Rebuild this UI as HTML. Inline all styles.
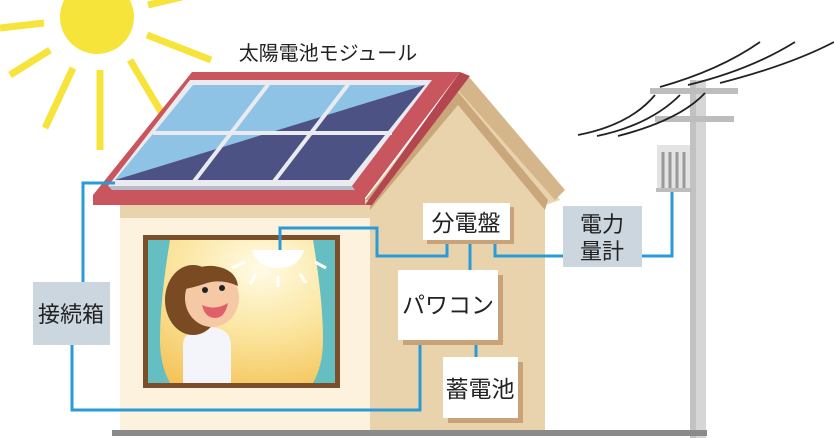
<!DOCTYPE html>
<html><head><meta charset="utf-8"><style>
html,body{margin:0;padding:0;background:#fff;}
svg{display:block;}
text{font-family:"Liberation Sans","Noto Sans CJK JP",sans-serif;fill:#222;}
</style></head><body>
<svg width="834" height="438" viewBox="0 0 834 438" xmlns="http://www.w3.org/2000/svg">
<defs>
<radialGradient id="win" cx="0.6" cy="0.2" r="0.9">
<stop offset="0" stop-color="#fffbe6"/><stop offset="0.5" stop-color="#fbe6a0"/><stop offset="1" stop-color="#f4c45a"/>
</radialGradient>
</defs>
<!-- sun -->
<circle cx="97" cy="17" r="37" fill="#f7e43a"/>
<g stroke="#f7e43a" stroke-width="7">
<line x1="0" y1="28" x2="44" y2="23"/>
<line x1="10" y1="75" x2="50" y2="50"/>
<line x1="45" y1="128" x2="73" y2="68"/>
<line x1="100" y1="150" x2="100" y2="70"/>
<line x1="130" y1="60" x2="170" y2="127"/>
<line x1="147" y1="35" x2="211" y2="60"/>
<line x1="148" y1="5" x2="182" y2="-3"/>
</g>
<!-- right gable part -->
<polygon points="365,200 458,78 560,200 545,205 545,432 365,432" fill="#e8d3ad"/>
<polygon points="458,78 470,78 565,190 555,200 458,90" fill="#d5b58a"/>
<polygon points="458,92 548,200 545,210 458,105 370,210 365,200" fill="#caa77a"/>
<!-- front wall -->
<rect x="120" y="210" width="250" height="222" fill="#fdf2dd"/>
<rect x="120" y="200" width="250" height="18" fill="#e8d3ad"/>
<!-- roof -->
<polygon points="192,72 460,72 365,198 365,205 93,205 93,195" fill="#c9555e"/>
<polygon points="460,72 470,76 372,205 365,205" fill="#b44650"/>
<!-- solar panel -->
<polygon points="190,80 432,80 352,186 108,186" fill="#e9ebf0"/>
<polygon points="108,186 352,186 355,190 112,190" fill="#b8bcc8"/>
<polygon points="193,85 425,85 349,180 115,180" fill="#8fc3e6"/>
<polygon points="115,180 425,85 349,180" fill="#4d5285"/>
<g stroke="#e9ebf0" stroke-width="4">
<line x1="270" y1="82" x2="192" y2="184"/>
<line x1="350" y1="82" x2="272" y2="184"/>
<line x1="153" y1="133" x2="392" y2="133"/>
</g>
<!-- window -->
<rect x="143" y="235" width="197" height="153" fill="#7a4f2a"/>
<rect x="148" y="240" width="187" height="143" fill="url(#win)"/>
<path d="M148,240 h22 q-10,60 -10,100 q0,25 10,43 h-22z" fill="#65bfc2"/>
<path d="M335,240 h-22 q10,60 10,100 q0,25 -10,43 h22z" fill="#65bfc2"/>
<!-- lamp -->
<path d="M252,250 h52 q-5,18 -26,18 q-21,0 -26,-18z" fill="#fff"/>
<g stroke="#fff" stroke-width="3">
<line x1="232" y1="268" x2="245" y2="262"/><line x1="256" y1="274" x2="250" y2="284"/>
<line x1="278" y1="276" x2="278" y2="287"/><line x1="300" y1="274" x2="306" y2="283"/>
<line x1="315" y1="262" x2="326" y2="268"/>
</g>
<!-- woman -->
<path d="M183,383 v-38 q0,-16 28,-18 q20,2 20,18 v38z" fill="#f4f5fa"/>
<ellipse cx="193" cy="300" rx="28" ry="35" fill="#7a4a22"/>
<ellipse cx="212" cy="298" rx="27" ry="29" fill="#f6c9a6"/>
<path d="M180,290 q8,-26 34,-24 q22,3 24,20 q-18,-8 -34,-2 q-12,4 -24,6z" fill="#7a4a22"/>
<path d="M202,305 q13,6 26,-2 q-3,15 -13,15 q-10,0 -13,-13z" fill="#e0606a"/>
<circle cx="205" cy="290" r="3" fill="#222"/><circle cx="222" cy="288" r="3" fill="#222"/>
<!-- blue lines -->
<g fill="none" stroke="#2a9bd6" stroke-width="3">
<polyline points="115,183 83,183 83,282"/>
<polyline points="72,345 72,410 420,410 420,340"/>
<polyline points="280,250 280,228 377,228 377,256 447,256 447,240"/>
<polyline points="470,240 470,270"/>
<polyline points="495,240 495,256 563,256"/>
<polyline points="642,256 672,256 672,190"/>
<polyline points="476,340 476,357"/>
</g>
<!-- boxes -->
<rect x="427" y="207" width="87" height="37" fill="#c9a27a"/>
<rect x="423" y="203" width="87" height="37" fill="#fff"/>
<text x="466" y="231" font-size="23" text-anchor="middle">分電盤</text>
<rect x="403" y="275" width="100" height="70" fill="#c9a27a"/>
<rect x="398" y="270" width="100" height="70" fill="#fff"/>
<text x="448" y="313" font-size="23" text-anchor="middle">パワコン</text>
<rect x="448" y="362" width="75" height="61" fill="#c9a27a"/>
<rect x="443" y="357" width="75" height="61" fill="#fff"/>
<text x="480" y="397" font-size="23" text-anchor="middle">蓄電池</text>
<rect x="33" y="282" width="77" height="63" fill="#ccd6df"/>
<text x="71" y="322" font-size="22" text-anchor="middle">接続箱</text>
<rect x="563" y="206" width="79" height="61" fill="#ccd6df"/>
<text x="602" y="232" font-size="22" text-anchor="middle">電力</text>
<text x="602" y="259" font-size="22" text-anchor="middle">量計</text>
<!-- label -->
<text x="328" y="60" font-size="20" text-anchor="middle">太陽電池モジュール</text>
<!-- pole -->
<rect x="690" y="80" width="16" height="358" fill="#d6d6d6"/>
<rect x="690" y="80" width="6" height="358" fill="#c2c2c2"/>
<rect x="650" y="88" width="88" height="6" fill="#bdbdbd"/>
<rect x="655" y="116" width="79" height="6" fill="#bdbdbd"/>
<rect x="657" y="145" width="33" height="47" fill="#e3e3e3"/>
<g stroke="#9a9a9a" stroke-width="3"><line x1="663" y1="152" x2="663" y2="188"/><line x1="670" y1="152" x2="670" y2="188"/><line x1="677" y1="152" x2="677" y2="188"/><line x1="684" y1="152" x2="684" y2="188"/></g>
<rect x="656" y="188" width="36" height="4" fill="#bdbdbd"/>
<g fill="none" stroke="#222" stroke-width="1.8">
<path d="M578,135 Q630,125 655,95"/>
<path d="M597,136 Q650,125 680,95"/>
<path d="M618,136 Q680,120 705,93"/>
<path d="M660,87 Q720,70 760,42"/>
<path d="M688,85 Q750,70 795,42"/>
<path d="M720,83 Q790,65 834,42"/>
</g>
<!-- ground -->
<rect x="112" y="430" width="595" height="6" fill="#8a8a8a"/>
</svg>
</body></html>
